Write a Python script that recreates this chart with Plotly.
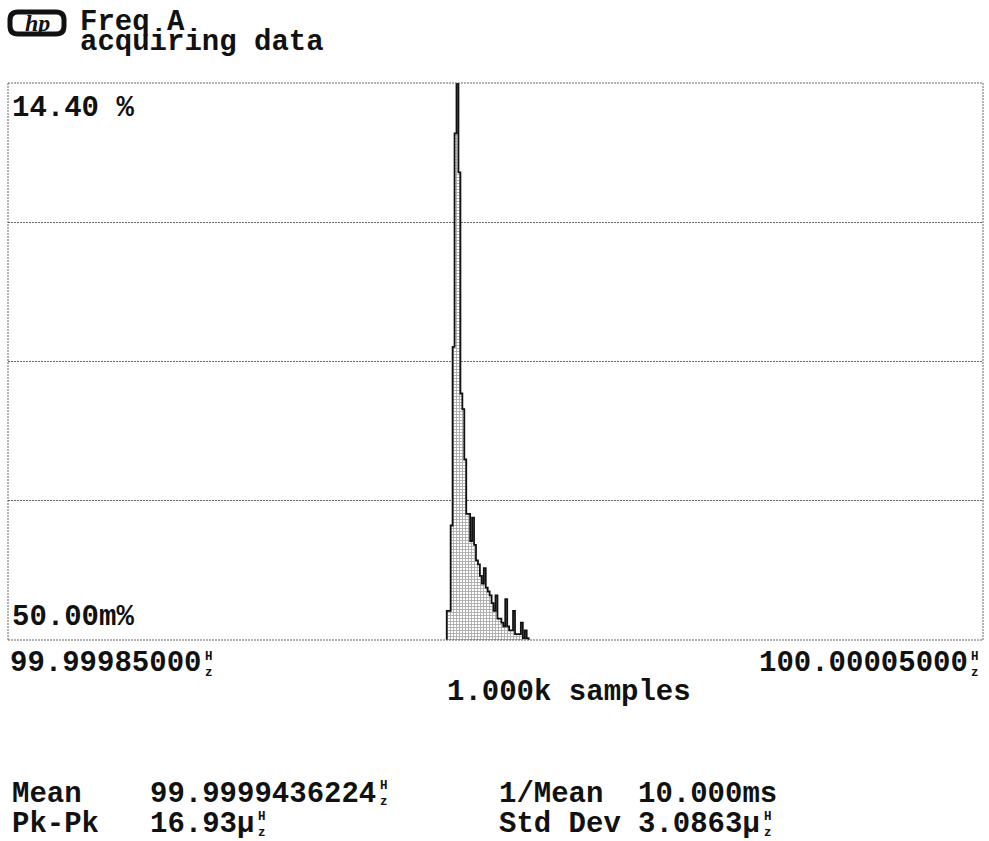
import numpy as np
import plotly.graph_objects as go

# ---- Frequency histogram, channel A, 1000 readings ----
span_start_hz = 99.99985000
span_stop_hz = 100.00005000
bin_start_uhz = 90.0        # first occupied bin, in µHz above span start
bin_width_uhz = 0.4
pct = [0.8, 0.8, 3.0, 7.6, 13.1, 14.4, 12.1, 6.4, 6.0, 4.7,
       3.3, 3.3, 2.6, 3.2, 2.5, 2.1, 2.0, 1.7, 1.5, 1.9,
       1.4, 1.3, 1.2, 1.0, 0.8, 1.2, 0.6, 0.6, 0.5, 0.4,
       1.1, 0.4, 0.3, 0.3, 0.8, 0.2, 0.2, 0.2, 0.5, 0.1,
       0.3, 0.1]

y_top = 14.40
y_bottom = 0.05
y_top_label = "14.40 %"
y_bottom_label = "50.00m%"
x_left_label = "99.99985000"
x_right_label = "100.00005000"
samples_label = "1.000k samples"

stat_names = ["Mean", "Pk-Pk"]
stat_values = ["99.9999436224", "16.93µ"]
stat_names2 = ["1/Mean", "Std Dev"]
stat_values2 = ["10.000ms", "3.0863µ"]

# ---- page geometry (pixels) ----
W, H = 989, 841
PL, PR, PT, PB = 8, 983, 83, 640
FONT = "Liberation Mono"
FS = 29
CW = 0.6 * FS          # monospace advance


def px(x):
    return (x - PL) / (PR - PL)


def py(y):
    return (PB - y) / (PB - PT)


# step outline of the histogram
span_uhz = (span_stop_hz - span_start_hz) * 1e6
edges = bin_start_uhz + bin_width_uhz * np.arange(len(pct) + 1)
xs = np.concatenate([[edges[0]], edges[:-1], [edges[-1]]])
ys = np.concatenate([[0.0], pct, [0.0]])

fig = go.Figure()
fig.add_trace(go.Scatter(
    x=xs, y=ys, mode="lines", line=dict(color="#111", width=1.8, shape="hv"),
    fill="tozeroy", fillcolor="white",
    fillpattern=dict(shape="+", size=3, solidity=0.5, fgcolor="#555", bgcolor="white"),
    hoverinfo="skip", showlegend=False,
))

grid_vals = list(np.linspace(y_bottom, y_top, 5)[1:-1])
dots = "2px,1px"

fig.update_xaxes(range=[0, span_uhz], showgrid=False, zeroline=False,
                 showticklabels=False, ticks="", showline=False, fixedrange=True)
fig.update_yaxes(range=[y_bottom, y_top], tickvals=grid_vals, showgrid=True,
                 gridcolor="#666", gridwidth=1, griddash=dots, zeroline=False,
                 showticklabels=False, ticks="", showline=False, fixedrange=True)

# dotted frame
frame = [(0, 0, 1, 0), (0, 1, 1, 1), (0, 0, 0, 1), (1, 0, 1, 1)]
shapes = [dict(type="line", xref="paper", yref="paper", x0=a, y0=b, x1=c, y1=d,
               line=dict(color="#666", width=1, dash=dots)) for a, b, c, d in frame]

# hp badge: rounded outline
lx0, lx1, ly0, ly1, r = 10, 64, 12, 34, 8
path = (f"M {px(lx0 + r)},{py(ly0)} L {px(lx1 - r)},{py(ly0)} "
        f"Q {px(lx1)},{py(ly0)} {px(lx1)},{py(ly0 + r)} L {px(lx1)},{py(ly1 - r)} "
        f"Q {px(lx1)},{py(ly1)} {px(lx1 - r)},{py(ly1)} L {px(lx0 + r)},{py(ly1)} "
        f"Q {px(lx0)},{py(ly1)} {px(lx0)},{py(ly1 - r)} L {px(lx0)},{py(ly0 + r)} "
        f"Q {px(lx0)},{py(ly0)} {px(lx0 + r)},{py(ly0)} Z")
shapes.append(dict(type="path", xref="paper", yref="paper", path=path,
                   line=dict(color="#111", width=5), fillcolor="white"))
fig.update_layout(shapes=shapes)

ann = []


def text(x, y, s, size=FS, anchor="left", color="#111", family=FONT, bold=True):
    t = f"<b>{s}</b>" if bold else s
    ann.append(dict(x=px(x), y=py(y), xref="paper", yref="paper", text=t,
                    showarrow=False, xanchor=anchor, yanchor="middle",
                    font=dict(family=family, size=size, color=color)))


def hz_glyph(x_cell, y_mid):
    # stacked "H" over "z" occupying one character cell
    text(x_cell + CW / 2 + 1, y_mid, "H<br>z", size=12.5, anchor="center")


def value_hz(x, y, s, dy=2):
    text(x, y, s)
    hz_glyph(x + len(s) * CW, y + dy)


text(37, 23, "<i>hp</i>", size=24, anchor="center", family="Liberation Serif")
text(78, 22, "Freq A")
text(78, 43, "acquiring data")

text(10, 108, y_top_label)
text(10, 617, y_bottom_label)

value_hz(8, 663, x_left_label)
value_hz(PR - (len(x_right_label) + 1) * CW, 663, x_right_label)
text(445, 692, samples_label)

rows = [794, 824]
hz_dy = [0, 1.5]
for i, yv in enumerate(rows):
    text(10, yv, stat_names[i])
    value_hz(148, yv, stat_values[i], dy=hz_dy[i])
text(497, rows[0], stat_names2[0])
text(497 + 8 * CW, rows[0], stat_values2[0])
text(497, rows[1], stat_names2[1])
value_hz(497 + 8 * CW, rows[1], stat_values2[1], dy=hz_dy[1])

fig.update_layout(
    width=W, height=H, annotations=ann,
    margin=dict(l=PL, r=W - PR, t=PT, b=H - PB, pad=0),
    paper_bgcolor="white", plot_bgcolor="white", showlegend=False,
)

fig.write_html("out.html", config={"displayModeBar": False})
